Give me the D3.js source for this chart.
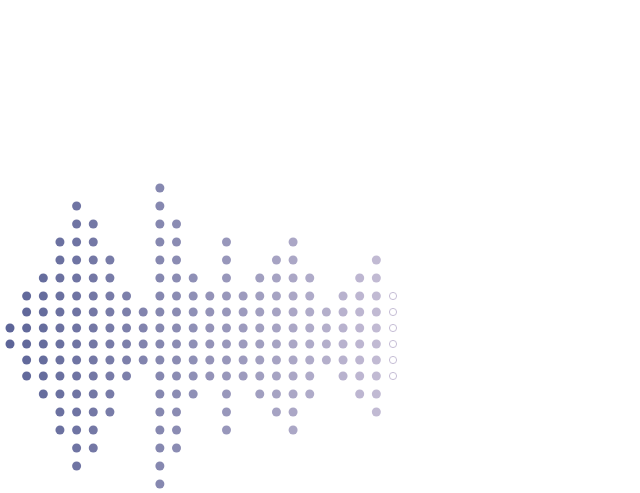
<!DOCTYPE html>
<html>
<head>
<meta charset="utf-8">
<script src="https://cdn.jsdelivr.net/npm/d3@7"></script>
<style>
  body { margin: 0; background: #fff; }
</style>
</head>
<body>
<div id="chart"></div>
<script>
var width = 640;
var height = 493;

// dots per column, left to right
var counts = [2, 6, 8, 12, 16, 14, 10, 6, 4, 18, 14, 8, 6, 12, 6, 8, 10, 12, 8, 4, 6, 8, 10, 6];
// the last column is drawn as open rings
var hollow = [false, false, false, false, false, false, false, false, false, false, false, false,
              false, false, false, false, false, false, false, false, false, false, false, true];

var columns = d3.range(counts.length);

var svg = d3.select("#chart")
    .append("svg")
    .attr("width", width)
    .attr("height", height)

var x = d3.scaleLinear().domain([0, counts.length - 1]).range([10, 393])

// distance from the centre line for the k-th dot of a half column
var offset = d3.scaleLinear().domain([0, 2, 8]).range([8, 40, 148])
var centerY = 336;

var color = d3.scaleLinear()
    .domain([0, counts.length - 1])
    .range(["#5d6598", "#c6bed6"])
    .interpolate(d3.interpolateRgb)

var dots = [];
columns.forEach(function(c) {
  var half = counts[c] / 2;
  for (var k = 0; k < half; k++) {
    dots.push({ col: c, y: centerY - offset(k) });
    dots.push({ col: c, y: centerY + offset(k) });
  }
})

svg.selectAll(".dot")
    .data(dots)
    .enter()
    .append("circle")
    .attr("class", "dot")
    .attr("cx", d => x(d.col))
    .attr("cy", d => d.y)
    .attr("r", d => hollow[d.col] ? 3.6 : 4.5)
    .attr("fill", d => hollow[d.col] ? "none" : color(d.col))
    .attr("stroke", d => hollow[d.col] ? color(d.col) : "none")
    .attr("stroke-width", 1)
</script>
</body>
</html>
